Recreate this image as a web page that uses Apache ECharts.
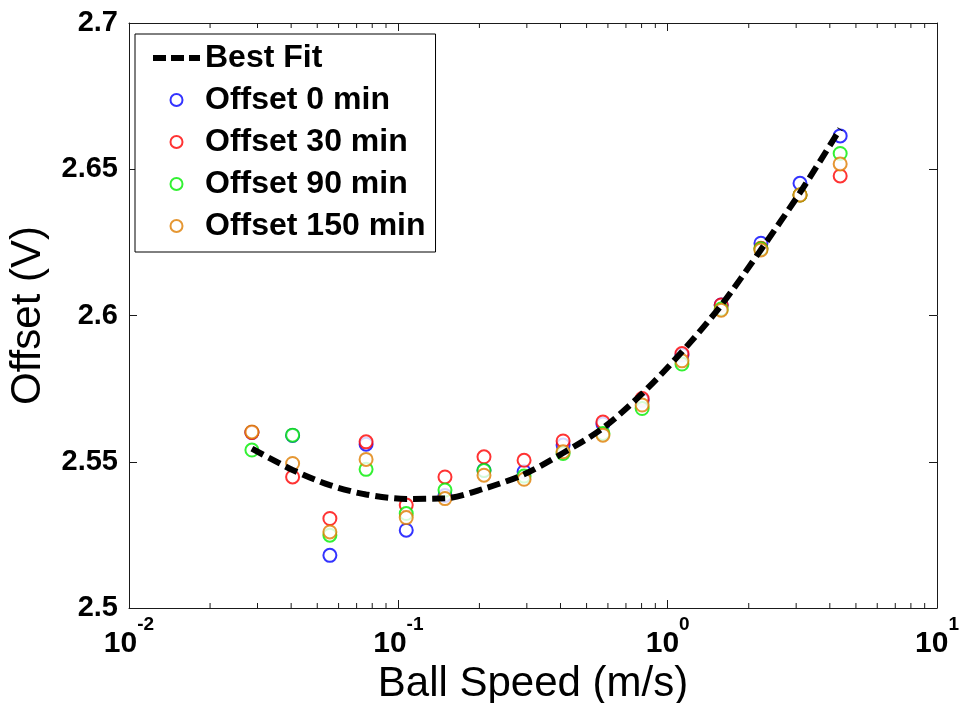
<!DOCTYPE html>
<html>
<head>
<meta charset="utf-8">
<script src="https://cdn.jsdelivr.net/npm/echarts@6/dist/echarts.min.js"></script>
<style>html,body{margin:0;padding:0;background:#fff;}#c{width:960px;height:703px;}</style>
</head>
<body>
<div id="c"></div>
<script>
// Ball speed (m/s) for each measurement group
const speeds = [0.0286, 0.0405, 0.0557, 0.0759, 0.107, 0.149, 0.208, 0.293, 0.409, 0.575, 0.804, 1.13, 1.58, 2.22, 3.10, 4.37];
// Offsets (V)
const offset0   = [2.5600, 2.5590, 2.5180, 2.5560, 2.5266, 2.5385, 2.5471, 2.5466, 2.5557, 2.5629, 2.5710, 2.5865, 2.6036, 2.6247, 2.6452, 2.6614];
const offset30  = [2.5600, 2.5448, 2.5306, 2.5568, 2.5352, 2.5448, 2.5517, 2.5505, 2.5571, 2.5636, 2.5716, 2.5870, 2.6036, 2.6230, 2.6412, 2.6477];
const offset90  = [2.5540, 2.5591, 2.5249, 2.5474, 2.5323, 2.5403, 2.5470, 2.5451, 2.5528, 2.5597, 2.5682, 2.5834, 2.6022, 2.6228, 2.6412, 2.6554];
const offset150 = [2.5602, 2.5494, 2.5260, 2.5508, 2.5309, 2.5374, 2.5454, 2.5440, 2.5534, 2.5591, 2.5694, 2.5845, 2.6018, 2.6224, 2.6412, 2.6518];
// Best fit curve
const fitX = [0.0286, 0.0405, 0.0557, 0.0759, 0.107, 0.149, 0.208, 0.293, 0.409, 0.575, 0.804, 1.13, 1.58, 2.22, 3.10, 4.37];
const fitY = [2.5545, 2.5472, 2.5420, 2.5388, 2.5373, 2.5375, 2.5408, 2.5457, 2.5530, 2.5615, 2.5733, 2.5876, 2.6035, 2.6225, 2.6420, 2.6638];
// Axis settings
const xMin = 0.01, xMax = 10;
const yMin = 2.5, yMax = 2.7, yStep = 0.05;
const minorTickVals = [0.02,0.03,0.04,0.05,0.06,0.07,0.08,0.09,0.2,0.3,0.4,0.5,0.6,0.7,0.8,0.9,2,3,4,5,6,7,8,9];
const seriesNames = ['Best Fit', 'Offset 0 min', 'Offset 30 min', 'Offset 90 min', 'Offset 150 min'];

const pair = (xs, ys) => xs.map((x, i) => [x, ys[i]]);
const font = "'Liberation Sans', Arial, sans-serif";
const axisCol = '#1a1a1a';

const chart = echarts.init(document.getElementById('c'), null, {renderer: 'canvas'});

function scatter(name, ys, color) {
  return {
    name: name, type: 'scatter', data: pair(speeds, ys),
    symbol: 'emptyCircle', symbolSize: 13,
    itemStyle: {color: color, borderColor: color, borderWidth: 2.2},
    z: 3
  };
}

chart.setOption({
  animation: false,
  backgroundColor: '#fff',
  grid: {left: 129, right: 23, top: 23, bottom: 95, containLabel: false, outerBoundsMode: 'none'},
  legend: {
    orient: 'vertical', left: 135, top: 34,
    padding: [7, 10, 9, 15],
    itemGap: 8, itemWidth: 47, itemHeight: 12,
    borderColor: '#000', borderWidth: 1, backgroundColor: '#fff',
    textStyle: {fontFamily: font, fontWeight: 'bold', fontSize: 32, color: '#000', lineHeight: 34},
    data: [
      {name: 'Best Fit', lineStyle: {width: 6, type: [13, 5], color: '#000'}, itemStyle: {opacity: 0}},
      {name: 'Offset 0 min'},
      {name: 'Offset 30 min'},
      {name: 'Offset 90 min'},
      {name: 'Offset 150 min'}
    ]
  },
  xAxis: [
    {
      type: 'log', logBase: 10, min: xMin, max: xMax, splitNumber: 3,
      name: 'Ball Speed (m/s)', nameLocation: 'middle', nameGap: 55,
      nameTextStyle: {fontFamily: font, fontSize: 42, color: '#000'},
      axisLine: {show: true, lineStyle: {color: axisCol, width: 1}},
      axisTick: {show: true, inside: true, length: 8, lineStyle: {color: axisCol}},
      splitLine: {show: false},
      axisLabel: {
        margin: 7, color: '#000',
        formatter: function (v) {
          const e = Math.round(Math.log10(v));
          return '{b|10}{s|' + e + '}';
        },
        rich: {
          b: {fontFamily: font, fontWeight: 'bold', fontSize: 30, lineHeight: 30, verticalAlign: 'bottom', color: '#000'},
          s: {fontFamily: font, fontWeight: 'bold', fontSize: 19, lineHeight: 44, verticalAlign: 'top', color: '#000'}
        }
      }
    },
    {
      type: 'log', logBase: 10, min: xMin, max: xMax, splitNumber: 3, position: 'top',
      axisLine: {show: true, lineStyle: {color: axisCol, width: 1}},
      axisTick: {show: true, inside: true, length: 8, lineStyle: {color: axisCol}},
      axisLabel: {show: false}, splitLine: {show: false}
    }
  ],
  yAxis: [
    {
      type: 'value', min: yMin, max: yMax, interval: yStep,
      name: 'Offset (V)', nameLocation: 'middle', nameGap: 80,
      nameTextStyle: {fontFamily: font, fontSize: 42, color: '#000'},
      axisLine: {show: true, lineStyle: {color: axisCol, width: 1}},
      axisTick: {show: true, inside: true, length: 8, lineStyle: {color: axisCol}},
      splitLine: {show: false},
      axisLabel: {
        margin: 11, color: '#000', fontFamily: font, fontWeight: 'bold', fontSize: 29,
        formatter: function (v) { return String(Math.round(v * 100) / 100); }
      }
    },
    {
      type: 'value', min: yMin, max: yMax, interval: yStep, position: 'right',
      axisLine: {show: true, lineStyle: {color: axisCol, width: 1}},
      axisTick: {show: true, inside: true, length: 8, lineStyle: {color: axisCol}},
      axisLabel: {show: false}, splitLine: {show: false}
    }
  ],
  series: [
    scatter('Offset 0 min', offset0, '#0000ff'),
    scatter('Offset 30 min', offset30, '#ff0000'),
    scatter('Offset 90 min', offset90, '#00ee00'),
    scatter('Offset 150 min', offset150, '#de7d00'),
    {
      name: 'Best Fit', type: 'line', data: pair(fitX, fitY), smooth: 0.3,
      symbol: 'none', showSymbol: false,
      itemStyle: {color: '#000'},
      lineStyle: {color: '#000', width: 6, type: [13, 6]},
      z: 4
    },
    {
      name: 'minorTicks', type: 'custom', silent: true, clip: false,
      data: minorTickVals.map(v => [v, yMin]),
      renderItem: function (params, api) {
        const v = api.value(0);
        const pb = api.coord([v, yMin]);
        const pt = api.coord([v, yMax]);
        const st = {stroke: axisCol, lineWidth: 1};
        return {
          type: 'group',
          children: [
            {type: 'line', shape: {x1: pb[0], y1: pb[1], x2: pb[0], y2: pb[1] - 5}, style: st},
            {type: 'line', shape: {x1: pt[0], y1: pt[1], x2: pt[0], y2: pt[1] + 5}, style: st}
          ]
        };
      },
      z: 5
    }
  ]
});
</script>
</body>
</html>
